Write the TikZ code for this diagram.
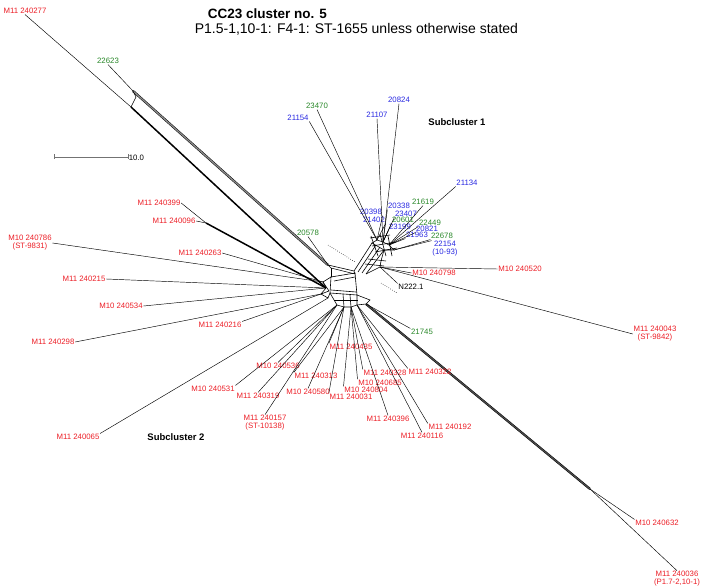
\documentclass[tikz,border=0pt]{standalone}
\usepackage{fontspec}
\setmainfont{Liberation Sans}
\usetikzlibrary{positioning,calc}
\definecolor{lred}{RGB}{236,30,38}
\definecolor{lblue}{RGB}{40,40,225}
\definecolor{lgreen}{RGB}{40,135,40}
\tikzset{
  every node/.style={font=\fontsize{7.8}{8}\selectfont,inner sep=0.6pt},
  redlab/.style={text=lred,align=center},
  bluelab/.style={text=lblue,align=center},
  greenlab/.style={text=lgreen,align=center},
  blacklab/.style={text=black},
  leaf/.style={line width=0.45pt},
  net/.style={line width=0.6pt},
  band/.style={line width=1.5pt},
  dband/.style={line width=0.5pt,double=black!45,double distance=1.3pt},
  dotln/.style={line width=0.5pt,dash pattern=on 0.6pt off 1.6pt},
  sclbar/.style={draw=black!55,line width=0.6pt},
  ttl/.style={anchor=base west,font=\fontsize{13.5}{16}\selectfont\bfseries},
  subttl/.style={anchor=base west,font=\fontsize{14}{16}\selectfont},
  grp/.style={font=\fontsize{9.5}{11}\selectfont\bfseries},
}

\begin{document}
\begin{tikzpicture}[x=1pt,y=1pt]
  \useasboundingbox (0,0) rectangle (701,-588);

  % ---------------- titles
  \node[ttl] (title) at (207,-19) {CC23 cluster no. 5};
  \node[subttl] (subtitle) at (194,-34) {P1.5-1,10-1: F4-1: ST-1655 unless otherwise stated};
  \node[grp] (sub1) at (457,-122) {Subcluster 1};
  \node[grp] (sub2) at (176,-437) {Subcluster 2};

  % ---------------- scale bar
  \coordinate (sb1) at (54,-157);
  \coordinate (sb2) at (128,-157);
  \draw[sclbar] (sb1) -- (sb2);
  \draw[sclbar] ($(sb1)+(0,2.5)$) -- ($(sb1)+(0,-2.5)$);
  \draw[sclbar] ($(sb2)+(0,2.5)$) -- ($(sb2)+(0,-2.5)$);
  \node[anchor=west] (sblab) at ($(sb2)+(0,-1)$) {10.0};

  % ---------------- hubs
  \coordinate (sA) at (377,-240);
  \coordinate (sB) at (383,-242);
  \coordinate (sC) at (389,-245);
  \coordinate (sD) at (394,-250);
  \coordinate (sE) at (380,-267);
  \coordinate (ul) at (328,-265);
  \coordinate (wA) at (323,-282);
  \coordinate (wB) at (326,-288);
  \coordinate (wC) at (321,-294);
  \coordinate (wD) at (328,-298);
  \coordinate (lA) at (337,-305);
  \coordinate (lB) at (344,-307);
  \coordinate (lC) at (351,-307);
  \coordinate (lD) at (357,-305);
  \coordinate (rB) at (366,-304);
  \coordinate (split) at (590,-489);
  \coordinate (tA) at (133,-91);
  \coordinate (tB) at (131,-107);
  \coordinate (tC) at (206,-223);

  % ---------------- central splits
  \draw[net] (372,-243) -- (354,-271);
  \draw[net] (376,-245) -- (358,-272);
  \draw[net] (380,-247) -- (362,-273);
  \draw[net] (384,-250) -- (366,-274);
  \draw[net] (372,-243) -- (sA) -- (sB) -- (sC) -- (sD) -- (384,-250) -- cycle;
  \draw[net] (370,-238) -- (390,-235);
  \draw[net] (372,-246) -- (396,-242);
  \draw[net] (375,-252) -- (397,-248);
  \draw[net] (371,-236) -- (378,-256);
  \draw[net] (380,-234) -- (386,-256);
  \draw[net] (388,-236) -- (392,-256);
  \draw[net] (384,-250) -- (381,-261) -- (sE) -- (366,-274);
  \draw[net] (368,-259) -- (386,-261);
  \draw[net] (365,-264) -- (384,-266);
  \draw[net] (ul) -- (354,-271) -- (355,-274) -- (331,-268) -- cycle;
  \draw[net] (331,-268) -- (331,-277);
  \draw[net] (331,-277) -- (355,-273) -- (357,-295) -- (330,-293) -- cycle;
  \draw[net] (334,-281) -- (355,-277);
  \draw[net] (331,-290) -- (356,-292);
  \draw[net] (331,-277) -- (wA) -- (wB) -- (wC) -- (wD) -- (330,-293);
  \draw[net] (wA) -- (329,-291) -- (wC);
  \draw[net] (330,-293) -- (lA) -- (lB) -- (lC) -- (lD) -- (357,-295);
  \draw[net] (334,-300) -- (358,-300);
  \draw[net] (343,-294) -- (lB);
  \draw[net] (350,-295) -- (lC);
  \draw[net] (357,-295) -- (370,-300) -- (rB) -- (lD);
  \draw[dotln] (328,-245) -- (355,-262);
  \draw[dotln] (381,-283) -- (397,-293);

  % ---------------- long bands
  \draw[dband] (tA) -- (ul);
  \draw[band] (tB) -- (wB);
  \draw[band] (tC) -- (wB);
  \draw[net] (tB) -- (136,-97) -- (tA);
  \draw[line width=0.5pt,double=black!70,double distance=1.2pt] (rB) -- (split);

  % ---------------- subcluster 1
  \node[bluelab] (n21154) at (298,-118) {21154};
  \node[greenlab] (n23470) at (317,-106) {23470};
  \node[bluelab] (n21107) at (377,-115) {21107};
  \node[bluelab] (n20824) at (399,-100) {20824};
  \node[bluelab] (n21134) at (467,-183) {21134};
  \node[greenlab] (n21619) at (423,-202) {21619};
  \node[bluelab] (n20338) at (399,-206) {20338};
  \node[bluelab] (n20398) at (371,-212) {20398};
  \node[bluelab] (n23407) at (406,-214) {23407};
  \node[bluelab] (n21402) at (374,-220) {21402};
  \node[greenlab] (n20601) at (403,-220) {20601};
  \node[greenlab] (n22449) at (430,-223) {22449};
  \node[bluelab] (n23199) at (400,-227) {23199};
  \node[bluelab] (n20821) at (427,-229) {20821};
  \node[bluelab] (n21963) at (417,-235) {21963};
  \node[greenlab] (n22678) at (442,-236) {22678};
  \node[bluelab] (n22154) at (445,-249) {22154\\(10-93)};
  \node[greenlab] (n20578) at (308,-233) {20578};
  \node[blacklab] (n222) at (411,-287) {N222.1};
  \node[redlab] (m240798) at (434,-273) {M10 240798};
  \node[redlab] (m240520) at (520,-269) {M10 240520};
  \node[redlab] (m240043) at (655,-334) {M11 240043\\(ST-9842)};
  \draw[leaf] (sA) -- (n21154.south east);
  \draw[leaf] (sA) -- (n23470.south);
  \draw[leaf] (sB) -- (n21107.south);
  \draw[leaf] (sB) -- (n20824.south);
  \draw[leaf] (sC) -- (n21134.south west);
  \draw[leaf] (sC) -- (n21619.south);
  \draw[leaf] (sB) -- (n20338.south west);
  \draw[leaf] (sA) -- (n20398.south east);
  \draw[leaf] (sB) -- (n23407.south west);
  \draw[leaf] (sA) -- (n21402.south east);
  \draw[leaf] (sB) -- (n20601.south west);
  \draw[leaf] (sC) -- (n22449.south west);
  \draw[leaf] (sB) -- (n23199.south west);
  \draw[leaf] (sC) -- (n20821.south west);
  \draw[leaf] (sC) -- (n21963.south west);
  \draw[leaf] (sD) -- (n22678.south west);
  \draw[leaf] (sD) -- (n22154.north west);
  \draw[leaf] (ul) -- (n20578.south);
  \draw[leaf] (sE) -- (n222.north west);
  \draw[leaf] (sE) -- (m240798.west);
  \draw[leaf] (sE) -- (m240520.west);
  \draw[leaf] (sE) -- (m240043.west);

  % ---------------- subcluster 2, left
  \node[greenlab] (n22623) at (108,-61) {22623};
  \node[redlab] (m240277) at (25,-11) {M11 240277};
  \node[redlab] (m240399) at (159,-203) {M11 240399};
  \node[redlab] (m240096) at (174,-221) {M11 240096};
  \node[redlab] (m240786) at (30,-243) {M10 240786\\(ST-9831)};
  \node[redlab] (m240263) at (200,-253) {M11 240263};
  \node[redlab] (m240215) at (84,-279) {M11 240215};
  \node[redlab] (m240534) at (121,-306) {M10 240534};
  \node[redlab] (m240216) at (220,-325) {M11 240216};
  \node[redlab] (m240298) at (53,-342) {M11 240298};
  \node[redlab] (m240065) at (78,-437) {M11 240065};
  \draw[leaf] (tA) -- (n22623.south);
  \draw[leaf] (tB) -- (m240277.south);
  \draw[leaf] (tC) -- (m240399.east);
  \draw[leaf] (tC) -- (m240096.east);
  \draw[leaf] (wA) -- (m240786.east);
  \draw[leaf] (wA) -- (m240263.east);
  \draw[leaf] (wB) -- (m240215.east);
  \draw[leaf] (wB) -- (m240534.east);
  \draw[leaf] (wC) -- (m240216.north east);
  \draw[leaf] (wC) -- (m240298.east);
  \draw[leaf] (wD) -- (m240065.north east);

  % ---------------- subcluster 2, lower fan
  \node[redlab] (m240531) at (213,-389) {M10 240531};
  \node[redlab] (m240536) at (278,-366) {M10 240536};
  \node[redlab] (m240319) at (258,-396) {M11 240319};
  \node[redlab] (m240313) at (316,-376) {M11 240313};
  \node[redlab] (m240580) at (308,-392) {M10 240580};
  \node[redlab] (m240157) at (265,-423) {M11 240157\\(ST-10138)};
  \node[redlab] (m240435) at (351,-347) {M11 240435};
  \node[redlab] (m240031) at (351,-397) {M11 240031};
  \node[redlab] (m240804) at (366,-390) {M10 240804};
  \node[redlab] (m240685) at (380,-383) {M10 240685};
  \node[redlab] (m240328) at (385,-373) {M11 240328};
  \node[redlab] (m240322) at (430,-372) {M11 240322};
  \node[redlab] (m240396) at (388,-419) {M11 240396};
  \node[redlab] (m240192) at (450,-427) {M11 240192};
  \node[redlab] (m240116) at (422,-436) {M11 240116};
  \node[greenlab] (n21745) at (422,-332) {21745};
  \draw[leaf] (lA) -- (m240531.north east);
  \draw[leaf] (lA) -- (m240536.north);
  \draw[leaf] (lA) -- (m240319.north);
  \draw[leaf] (lB) -- (m240313.north west);
  \draw[leaf] (lB) -- (m240580.north);
  \draw[leaf] (lA) -- (m240157.north);
  \draw[leaf] (lB) -- (m240435.north west);
  \draw[leaf] (lB) -- (m240031.north west);
  \draw[leaf] (lC) -- (m240804.north west);
  \draw[leaf] (lC) -- (m240685.north west);
  \draw[leaf] (lC) -- (m240328.north west);
  \draw[leaf] (lD) -- (m240322.north west);
  \draw[leaf] (lC) -- (m240396.north);
  \draw[leaf] (lD) -- (m240192.north west);
  \draw[leaf] (lD) -- (m240116.north);
  \draw[leaf] (rB) -- (n21745.north west);

  % ---------------- far split
  \node[redlab] (m240632) at (657,-523) {M10 240632};
  \node[redlab] (m240036) at (677,-579) {M11 240036\\(P1.7-2,10-1)};
  \draw[leaf] (split) -- (m240632.north west);
  \draw[leaf] (split) -- (m240036.north);
\end{tikzpicture}
\end{document}
